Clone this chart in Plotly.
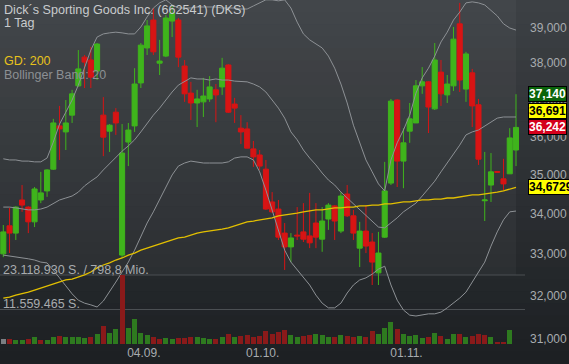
import math
import plotly.graph_objects as go

# ---------------- data ----------------
open_ = [33.01, 33.70, 33.52, 34.35, 34.17, 33.80, 34.35, 34.58, 35.14, 36.28,
         36.12, 36.57, 37.37, 38.17, 38.09, 37.78, 36.57, 36.14, 36.65, 32.98,
         35.85, 36.28, 37.45, 38.43, 39.23, 38.00, 38.20, 39.20, 39.23, 37.92,
         37.17, 36.90, 36.93, 37.01, 37.26, 37.34, 37.95, 36.87, 36.22, 36.20,
         35.67, 35.51, 35.14, 34.30, 34.12, 33.52, 33.18, 33.47, 33.55, 33.45,
         33.77, 33.37, 33.87, 34.20, 33.57, 34.50, 33.95, 33.15, 33.57, 33.30,
         32.55, 33.42, 34.78, 36.98, 35.35, 36.14, 36.36, 37.37, 37.48, 36.74,
         37.75, 37.12, 37.37, 39.12, 37.28, 37.73, 36.85, 34.33, 34.73, 35.08,
         34.89, 35.02, 35.64]
high = [33.72, 34.15, 34.19, 34.73, 34.19, 34.68, 35.07, 35.14, 36.47, 36.82,
        36.98, 37.26, 38.37, 38.23, 38.46, 38.57, 37.06, 36.33, 36.76, 36.33,
        36.36, 37.86, 38.57, 39.23, 39.58, 38.66, 39.38, 39.67, 39.29, 38.09,
        37.48, 37.26, 37.59, 37.64, 37.42, 38.15, 37.97, 37.04, 36.57, 36.38,
        35.88, 35.64, 35.38, 34.55, 34.35, 33.77, 33.52, 34.17, 34.27, 34.53,
        34.27, 34.17, 34.27, 34.22, 34.55, 34.73, 34.10, 33.80, 34.22, 33.52,
        33.55, 35.33, 37.01, 37.00, 36.22, 36.90, 37.53, 37.89, 37.50, 38.57,
        38.09, 37.67, 39.03, 39.73, 38.32, 37.84, 37.01, 35.59, 35.56, 35.09,
        35.41, 36.22, 37.14]
low = [32.93, 33.03, 33.35, 34.05, 33.52, 33.67, 34.27, 34.43, 35.12, 35.38,
       35.64, 36.36, 37.34, 37.31, 37.31, 37.53, 35.48, 35.59, 36.04, 32.91,
       35.22, 36.12, 37.31, 38.23, 38.23, 37.67, 38.17, 38.74, 37.89, 36.93,
       36.44, 36.25, 36.52, 36.93, 36.38, 37.12, 36.63, 36.36, 35.80, 35.68,
       35.20, 35.12, 34.10, 34.02, 33.35, 32.62, 32.81, 33.35, 33.30, 33.15,
       33.15, 33.06, 33.60, 33.35, 33.52, 33.92, 33.35, 32.69, 33.03, 32.26,
       32.26, 33.40, 34.73, 34.68, 34.65, 35.83, 36.36, 37.15, 36.09, 36.71,
       36.82, 36.90, 37.23, 37.20, 36.93, 36.25, 35.25, 33.82, 34.30, 35.05,
       34.60, 35.02, 35.22]
close = [33.55, 33.52, 34.17, 34.22, 33.80, 34.63, 34.53, 35.12, 36.36, 36.20,
         36.36, 37.15, 37.84, 38.03, 37.61, 38.54, 35.98, 36.30, 36.36, 35.56,
         36.17, 37.42, 38.51, 39.06, 38.32, 38.06, 39.29, 39.43, 38.17, 37.15,
         36.90, 37.01, 37.09, 37.34, 37.12, 37.86, 36.65, 36.76, 36.12, 35.69,
         35.46, 35.22, 34.12, 34.05, 33.42, 33.18, 33.40, 33.45, 33.37, 33.28,
         33.42, 33.82, 34.22, 33.82, 34.45, 33.95, 33.52, 33.57, 33.20, 32.81,
         33.03, 34.58, 36.95, 35.35, 35.83, 36.47, 37.37, 37.48, 36.79, 38.09,
         37.15, 37.42, 38.68, 37.53, 38.26, 36.82, 35.40, 34.35, 35.07, 35.06,
         34.76, 35.96, 36.24]
upper = [35.41, 35.38, 35.38, 35.35, 35.35, 35.33, 35.33, 35.43, 35.85, 36.33,
         36.65, 36.98, 37.39, 37.86, 38.37, 38.74, 38.83, 38.86, 38.88, 38.86,
         38.83, 38.83, 39.03, 39.32, 39.58, 39.73, 39.82, 39.67, 39.58, 39.58,
         39.58, 39.61, 39.61, 39.61, 39.61, 39.58, 39.58, 39.58, 39.55, 39.55,
         39.64, 39.73, 39.82, 39.82, 39.79, 39.82, 39.58, 39.17, 38.83, 38.66,
         38.54, 38.43, 38.20, 37.86, 37.42, 36.90, 36.30, 35.83, 35.38, 35.07,
         34.76, 34.58, 35.38, 35.83, 36.17, 36.57, 37.17, 37.59, 37.86, 38.20,
         38.60, 38.88, 39.23, 39.46, 39.73, 39.76, 39.73, 39.67, 39.52, 39.35,
         39.12, 39.00, 38.94]
middle = [34.17, 34.17, 34.15, 34.12, 34.10, 34.10, 34.12, 34.17, 34.27, 34.35,
          34.40, 34.45, 34.55, 34.71, 34.83, 34.94, 35.12, 35.28, 35.46, 35.61,
          35.75, 35.91, 36.12, 36.36, 36.57, 36.76, 36.98, 37.20, 37.39, 37.50,
          37.59, 37.56, 37.56, 37.53, 37.56, 37.53, 37.53, 37.50, 37.50, 37.48,
          37.42, 37.34, 37.20, 36.98, 36.76, 36.49, 36.12, 35.91, 35.64, 35.43,
          35.25, 35.04, 34.86, 34.73, 34.55, 34.40, 34.25, 34.10, 33.95, 33.80,
          33.67, 33.65, 33.77, 33.90, 34.05, 34.15, 34.27, 34.45, 34.65, 34.83,
          35.07, 35.30, 35.56, 35.77, 36.04, 36.12, 36.17, 36.28, 36.38, 36.49,
          36.52, 36.52, 36.52]
lower = [32.98, 32.96, 32.93, 32.91, 32.89, 32.86, 32.81, 32.79, 32.62, 32.43,
         32.24, 32.05, 31.90, 31.83, 31.79, 31.74, 31.88, 32.09, 32.33, 32.57,
         32.81, 33.10, 33.45, 33.77, 34.05, 34.35, 34.68, 34.99, 35.22, 35.30,
         35.35, 35.33, 35.30, 35.30, 35.30, 35.30, 35.33, 35.43, 35.46, 35.46,
         35.38, 35.07, 34.60, 34.10, 33.60, 33.10, 32.81, 32.62, 32.45, 32.26,
         32.02, 31.83, 31.72, 31.72, 31.83, 32.07, 32.26, 32.38, 32.43, 32.52,
         32.64, 32.71, 32.26, 31.90, 31.67, 31.55, 31.53, 31.55, 31.58, 31.58,
         31.62, 31.72, 31.83, 31.95, 32.09, 32.33, 32.57, 32.81, 33.20, 33.55,
         33.85, 34.05, 34.07]
gd200 = [31.95, 31.97, 32.02, 32.05, 32.09, 32.14, 32.19, 32.24, 32.28, 32.33,
         32.38, 32.40, 32.45, 32.50, 32.57, 32.67, 32.74, 32.79, 32.86, 32.91,
         32.98, 33.03, 33.10, 33.15, 33.20, 33.25, 33.30, 33.35, 33.40, 33.42,
         33.47, 33.52, 33.55, 33.57, 33.60, 33.62, 33.65, 33.70, 33.75, 33.80,
         33.82, 33.85, 33.87, 33.90, 33.95, 33.97, 34.00, 34.02, 34.05, 34.07,
         34.10, 34.10, 34.12, 34.15, 34.15, 34.17, 34.17, 34.20, 34.20, 34.22,
         34.22, 34.25, 34.25, 34.27, 34.30, 34.30, 34.32, 34.35, 34.35, 34.37,
         34.37, 34.40, 34.40, 34.43, 34.45, 34.48, 34.48, 34.50, 34.53, 34.55,
         34.58, 34.63, 34.6729]
volume_mio = [1.7, 1.75, 1.4, 1.2, 1.75, 2.4, 1.2, 1.4, 2.2, 2.6,
              2.2, 2.2, 2.2, 1.85, 2.4, 3.2, 6.0, 3.8, 4.9, 23.11893,
              5.5, 8.3, 3.8, 3.1, 2.4, 1.75, 1.85, 1.6, 1.95, 1.95,
              2.2, 2.4, 2.0, 1.8, 1.6, 2.4, 3.5, 2.2, 2.6, 3.0,
              2.4, 2.8, 4.5, 3.2, 4.0, 4.8, 3.0, 2.2, 2.6, 2.9,
              3.4, 3.1, 2.5, 2.2, 3.0, 2.7, 2.4, 2.6, 2.3, 4.2,
              3.5, 5.2, 7.5, 5.0, 3.4, 2.6, 3.0, 2.0, 2.4, 3.6,
              2.6, 1.8, 3.2, 3.5, 2.4, 2.6, 3.4, 2.9, 2.2, 0.5,
              0.8, 4.6, 0.0]
vol_max = 23118930
date_idx = [22, 41, 64]
date_txt = ["04.09.", "01.10.", "01.11."]
price_ticks = [31, 32, 33, 34, 35, 36, 37, 38, 39]
price_tick_txt = ["31,000", "32,000", "33,000", "34,000", "35,000",
                  "36,000", "37,000", "38,000", "39,000"]
label_vals = [37.140, 36.691, 36.242, 34.6729]
label_txt = ["37,140", "36,691", "36,242", "34,6729"]
label_bg = ["#0b650b", "#ffff00", "#d4001c", "#ffff00"]
label_fg = ["#ffffff", "#000000", "#ffffff", "#000000"]

# ---------------- layout geometry ----------------
W, H = 569, 364
ML, MR, MT, MB = 0, 47, 0, 20
PW, PH = W - ML - MR, H - MT - MB
FONT = "Liberation Sans, Arial, sans-serif"

GREEN, RED = "#3fb41c", "#d81414"
VGREEN, VRED, VGRAY = "#2e7a1f", "#8a1a1a", "#7b7e82"

n = len(close)
x = list(range(n))

def px_x(p):
    return p / PW

def px_y(p):
    return 1 - (p - MT) / PH

fig = go.Figure()

# volume (secondary axis)
vcol = [VGRAY] + [VGREEN if close[i] >= close[i - 1] else VRED for i in range(1, n)]
fig.add_trace(go.Bar(x=x, y=[v * 1e6 for v in volume_mio], marker=dict(color=vcol, line=dict(width=0)),
                     width=0.8, yaxis="y2", hoverinfo="skip"))

# Bollinger bands
for s in (upper, middle, lower):
    fig.add_trace(go.Scatter(x=x, y=s, mode="lines", line=dict(color="#8d9195", width=1),
                             hoverinfo="skip"))
# GD 200
fig.add_trace(go.Scatter(x=x, y=gd200, mode="lines", line=dict(color="#e3c000", width=1.3),
                         hoverinfo="skip"))
# candles
fig.add_trace(go.Candlestick(x=x, open=open_, high=high, low=low, close=close,
                             increasing=dict(line=dict(color=GREEN, width=1), fillcolor=GREEN),
                             decreasing=dict(line=dict(color=RED, width=1), fillcolor=RED),
                             whiskerwidth=0, hoverinfo="skip"))

shapes = []
# background gradient
top_c, bot_c = (60, 64, 68), (29, 32, 35)
steps = 30
for k in range(steps):
    t = k / (steps - 1)
    c = tuple(int(round(top_c[j] + (bot_c[j] - top_c[j]) * t)) for j in range(3))
    y0p = k * H / steps
    y1p = (k + 1) * H / steps + 1
    shapes.append(dict(type="rect", xref="paper", yref="paper", layer="below",
                       x0=px_x(-2), x1=px_x(W + 2), y0=px_y(y1p), y1=px_y(y0p),
                       fillcolor="rgb(%d,%d,%d)" % c, line=dict(width=0)))
# lighter chart panel
shapes.append(dict(type="rect", xref="paper", yref="paper", layer="below",
                   x0=0, x1=px_x(516), y0=px_y(275), y1=1,
                   fillcolor="rgba(255,255,255,0.035)", line=dict(width=0)))
# volume reference lines
for v in (vol_max, vol_max / 2):
    shapes.append(dict(type="line", xref="paper", yref="y2", layer="below",
                       x0=0, x1=px_x(525), y0=v, y1=v,
                       line=dict(color="#4b4f53", width=1)))
# small tick marks next to value labels
for v in label_vals[:3]:
    shapes.append(dict(type="line", xref="paper", yref="y",
                       x0=px_x(523), x1=px_x(527), y0=math.log10(v), y1=math.log10(v),
                       line=dict(color="#9a9ea2", width=1)))

ann = []
def txt(t, xp, yp, color, size=12.5):
    ann.append(dict(text=t, xref="paper", yref="paper", x=px_x(xp), y=px_y(yp),
                    xanchor="left", yanchor="middle", showarrow=False,
                    font=dict(family=FONT, size=size, color=color)))

txt("Dick´s Sporting Goods Inc. (662541) (DKS)", 2, 9.5, "#c9cbcd", 12.6)
txt("1 Tag", 2, 23, "#c9cbcd", 12.6)
txt("GD: 200", 2, 61, "#e7c21b")
txt("Bollinger Band: 20", 2, 75, "#8c9094")
txt("23.118.930 S. / 798,8 Mio.", 1, 270, "#a8abae")
txt("11.559.465 S.", 1, 304, "#a8abae")

for v, t, bg, fg in zip(label_vals, label_txt, label_bg, label_fg):
    ann.append(dict(text="<b>%s</b>" % t, xref="paper", yref="y", x=px_x(527.5),
                    y=math.log10(v), xanchor="left", yanchor="middle", showarrow=False,
                    bgcolor=bg, bordercolor="#000000", borderwidth=1, borderpad=0,
                    font=dict(family=FONT, size=12, color=fg)))

y_lo = 39 * math.exp(-(PH - 28) / 1354.5)
y_hi = 39 * math.exp(28 / 1354.5)
x_lo = -3.3 / 6.2524
x_hi = x_lo + PW / 6.2524

fig.update_layout(
    width=W, height=H, margin=dict(l=ML, r=MR, t=MT, b=MB, autoexpand=False),
    paper_bgcolor="#2c3034", plot_bgcolor="rgba(0,0,0,0)",
    showlegend=False, dragmode=False, bargap=0, boxgap=0.1, boxgroupgap=0.1,
    font=dict(family=FONT, size=12, color="#a5a9ad"),
    xaxis=dict(range=[x_lo, x_hi], showgrid=False, zeroline=False, showline=False,
               tickmode="array", tickvals=date_idx, ticktext=date_txt, ticks="",
               tickfont=dict(family=FONT, size=12, color="#a8acb0"), ticklabelshift=3,
               rangeslider=dict(visible=False), fixedrange=True),
    yaxis=dict(type="log", range=[math.log10(y_lo), math.log10(y_hi)], side="right",
               showgrid=False, zeroline=False, showline=False, ticks="",
               tickmode="array", tickvals=price_ticks, ticktext=price_tick_txt,
               tickfont=dict(family=FONT, size=12, color="#a8acb0"),
               ticklabelstandoff=7, fixedrange=True),
    yaxis2=dict(overlaying="y", range=[0, vol_max * PH / 69.0], visible=False,
                fixedrange=True),
    shapes=shapes, annotations=ann,
)

fig.write_html("out.html", config={"displayModeBar": False},
               post_script="document.body.style.margin='0';document.body.style.background='#1e2124';")
